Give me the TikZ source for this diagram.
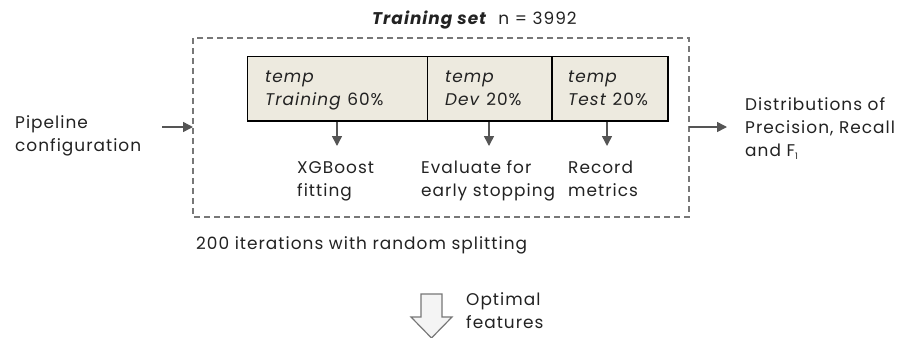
\documentclass[tikz,border=0pt]{standalone}
\usepackage{fontspec}
\setmainfont{Poppins}[LetterSpace=6]
\usetikzlibrary{arrows.meta}
\definecolor{boxfill}{HTML}{EDEADF}
\definecolor{arrowgray}{HTML}{555555}
\definecolor{dashgray}{HTML}{777777}
\definecolor{txt}{HTML}{222222}
\definecolor{hollowfill}{HTML}{F4F4F4}
\begin{document}
\begin{tikzpicture}[x=1bp,y=-1bp,
  lbl/.style={anchor=base west,inner sep=0pt,text=txt,align=left,font=\fontsize{17}{23}\selectfont},
  part/.style={draw=black,line width=1.5pt,fill=boxfill},
  flow/.style={draw=arrowgray,line width=1.5pt,-{Triangle[length=10bp,width=10bp]}},
]
\useasboundingbox (0,0) rectangle (898,337);
% title
\node[lbl] (title) at (372,24) {\textbf{\textit{Training set}}\ \ n = 3992};
% dashed frame
\draw[dashgray,line width=1.2pt,dash pattern=on 6bp off 4bp] (193,38) rectangle (689,217);
\coordinate (frameL) at (193,127);
\coordinate (frameR) at (689,127);
% inner boxes
\node[part,anchor=north west,minimum width=180bp,minimum height=64bp,inner sep=0pt] (train) at (247,56) {};
\node[part,anchor=north west,minimum width=124bp,minimum height=64bp,inner sep=0pt] (dev) at (427,56) {};
\node[part,anchor=north west,minimum width=116bp,minimum height=64bp,inner sep=0pt] (test) at (551,56) {};
\node[lbl] (ttrain) at (265,105) {\textit{temp}\\\textit{Training} 60\%};
\node[lbl] (tdev) at (445,105) {\textit{temp}\\\textit{Dev} 20\%};
\node[lbl] (ttest) at (568,105) {\textit{temp}\\\textit{Test} 20\%};
% outputs
\node[lbl] (xgb) at (297,196) {XGBoost\\fitting};
\node[lbl] (eval) at (421,196) {Evaluate for\\early stopping};
\node[lbl] (rec) at (568,196) {Record\\metrics};
\coordinate (a1) at (337,146);
\coordinate (a2) at (489,146);
\coordinate (a3) at (607,146);
\draw[flow] (train.south -| a1) -- (a1);
\draw[flow] (dev.south -| a2) -- (a2);
\draw[flow] (test.south -| a3) -- (a3);
% left input
\node[lbl] (pipe) at (15,151) {Pipeline\\configuration};
\coordinate (inS) at (162,127);
\draw[flow] (inS) -- (frameL);
% right output
\node[lbl] (dist) at (745,156) {Distributions of\\Precision, Recall\\and F\raisebox{-0.4ex}{\fontsize{9}{9}\selectfont 1}};
\coordinate (outE) at (727,127);
\draw[flow] (frameR) -- (outE);
% iterations
\node[lbl] (iter) at (196,249) {200 iterations with random splitting};
% hollow arrow
\draw[draw=dashgray,fill=hollowfill,line width=1.2pt,line join=miter]
  (421,294) -- (442,294) -- (442,317) -- (452,317) -- (431.5,338) -- (411,317) -- (421,317) -- cycle;
\node[lbl] (opt) at (466,328) {Optimal\\features};
\end{tikzpicture}
\end{document}
